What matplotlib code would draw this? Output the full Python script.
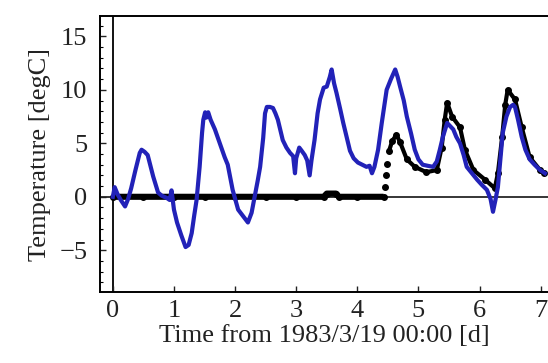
import numpy as np
import matplotlib
matplotlib.use("Agg")
import matplotlib.pyplot as plt
from matplotlib.ticker import MultipleLocator

# air temperature (blue) and surface temperature (black dots), days from start
t_air = [0.00, 0.03, 0.08, 0.13, 0.20, 0.25, 0.30, 0.37, 0.44, 0.47, 0.52, 0.57,
         0.62, 0.66, 0.74, 0.80, 0.88, 0.93, 0.96, 1.00, 1.05, 1.12, 1.19, 1.24,
         1.29, 1.33, 1.37, 1.42, 1.46, 1.48, 1.51, 1.53, 1.56, 1.60, 1.67, 1.75,
         1.83, 1.88, 1.96, 2.05, 2.13, 2.21, 2.27, 2.32, 2.37, 2.41, 2.46, 2.49,
         2.52, 2.57, 2.62, 2.66, 2.70, 2.78, 2.84, 2.90, 2.95, 2.98, 3.00, 3.05,
         3.09, 3.14, 3.18, 3.22, 3.25, 3.30, 3.35, 3.39, 3.45, 3.50, 3.55, 3.58,
         3.62, 3.66, 3.72, 3.77, 3.83, 3.88, 3.94, 4.01, 4.08, 4.15, 4.20, 4.24,
         4.28, 4.34, 4.40, 4.45, 4.48, 4.55, 4.62, 4.66, 4.70, 4.76, 4.81, 4.88,
         4.94, 5.00, 5.07, 5.15, 5.24, 5.30, 5.35, 5.40, 5.47, 5.52, 5.57, 5.62,
         5.68, 5.74, 5.79, 5.86, 5.96, 6.04, 6.12, 6.18, 6.22, 6.26, 6.30, 6.34,
         6.38, 6.44, 6.50, 6.55, 6.58, 6.63, 6.69, 6.75, 6.82, 6.90, 6.99, 7.07]
T_air = [0.0, 0.9, 0.2, -0.3, -0.9, -0.2, 0.8, 2.5, 4.1, 4.4, 4.2, 3.9,
         2.8, 1.9, 0.4, 0.1, -0.1, -0.3, 0.6, -1.2, -2.4, -3.6, -4.7, -4.5,
         -3.4, -1.8, -0.3, 2.8, 6.0, 7.2, 7.9, 7.4, 7.9, 7.2, 6.3, 5.0,
         3.7, 3.0, 0.65, -1.2, -1.8, -2.4, -1.5, 0.0, 1.5, 2.8, 5.5, 7.8,
         8.4, 8.4, 8.3, 7.8, 7.2, 5.3, 4.6, 4.1, 3.8, 2.2, 3.6, 4.6,
         4.3, 3.9, 3.4, 2.0, 3.4, 5.3, 7.8, 9.1, 10.2, 10.3, 11.2, 11.9,
         10.6, 9.7, 8.2, 6.9, 5.5, 4.3, 3.6, 3.2, 3.0, 2.8, 2.9, 2.2,
         2.8, 4.4, 6.9, 8.8, 10.0, 11.0, 11.9, 11.2, 10.3, 9.0, 7.5, 5.9,
         4.4, 3.5, 3.0, 2.9, 2.8, 3.3, 4.4, 5.6, 6.9, 6.6, 6.3, 5.6,
         5.0, 3.9, 2.8, 2.3, 1.6, 1.1, 0.65, -0.2, -1.4, -0.3, 0.9, 3.5,
         6.0, 7.5, 8.4, 8.6, 8.4, 7.2, 5.6, 4.4, 3.5, 3.0, 2.5, 2.2]

t_surf = [0.0, 0.5, 1.0, 1.5, 2.0, 2.5, 3.0, 3.45, 3.5, 3.65, 3.7, 4.0, 4.43,
          4.45, 4.47, 4.49, 4.52, 4.57, 4.64, 4.70, 4.81, 4.94, 5.13, 5.30,
          5.38, 5.43, 5.47, 5.55, 5.68, 5.76, 5.90, 6.09, 6.25, 6.30, 6.37,
          6.42, 6.46, 6.58, 6.69, 6.82, 6.99, 7.05]
T_surf = [0.0, 0.0, 0.0, 0.0, 0.0, 0.0, 0.0, 0.0, 0.3, 0.3, 0.0, 0.0, 0.0,
          0.9, 2.0, 3.1, 4.3, 5.2, 5.8, 5.1, 3.5, 2.8, 2.3, 2.5,
          4.6, 7.2, 8.8, 7.5, 6.5, 4.4, 2.5, 1.6, 0.8, 2.2, 5.6,
          8.6, 10.0, 9.1, 6.5, 3.7, 2.5, 2.2]

x_ticks = [0, 1, 2, 3, 4, 5, 6, 7]
y_ticks = [-5, 0, 5, 10, 15]

plt.rcParams['font.family'] = ['Liberation Serif', 'DejaVu Serif']

fig = plt.figure(figsize=(5.48, 3.63), dpi=100)
ax = fig.add_axes([0.1825, 0.1956, 0.8175, 0.7603])

# axis lines through the origin
ax.axhline(0, color='black', lw=1.1, zorder=1)
ax.axvline(0, color='black', lw=1.3, zorder=1)

# surface temperature: thick run of dots
flat = [i for i, t in enumerate(t_surf) if t <= 4.43]
rest = [i for i, t in enumerate(t_surf) if t >= 4.52]
ax.plot([t_surf[i] for i in flat], [T_surf[i] for i in flat], color='black',
        lw=4.4, solid_capstyle='butt', zorder=2)
ax.plot([t_surf[i] for i in rest], [T_surf[i] for i in rest], color='black',
        lw=3.0, zorder=2)
ax.plot(t_surf, T_surf, ls='none', color='black', marker='o', ms=4, zorder=2)

ax.plot(t_air, T_air, color='#2222b8', lw=3.0, zorder=3)

ax.set_xlim(-0.21, 7.12)
ax.set_ylim(-8.9, 16.9)

ax.set_xticks(x_ticks)
ax.set_yticks(y_ticks)
ax.set_yticklabels(['\u22125', '0', '5', '10', '15'])
ax.yaxis.set_minor_locator(MultipleLocator(1))
ax.tick_params(axis='both', which='major', direction='in', length=4, width=1,
               labelsize=19, colors='#222222')
ax.tick_params(axis='y', which='minor', direction='in', length=2, width=0.8)
ax.tick_params(axis='x', pad=6)
ax.tick_params(axis='y', pad=9)

for side in ['left', 'bottom', 'top']:
    ax.spines[side].set_linewidth(1.4)
ax.spines['right'].set_visible(False)

ax.set_xlabel('Time from 1983/3/19 00:00 [d]', fontsize=19, color='#222222',
              labelpad=2)
ax.set_ylabel('Temperature [degC]', fontsize=19, color='#222222', labelpad=6)

fig.savefig('out.png', dpi=100, facecolor='white')
